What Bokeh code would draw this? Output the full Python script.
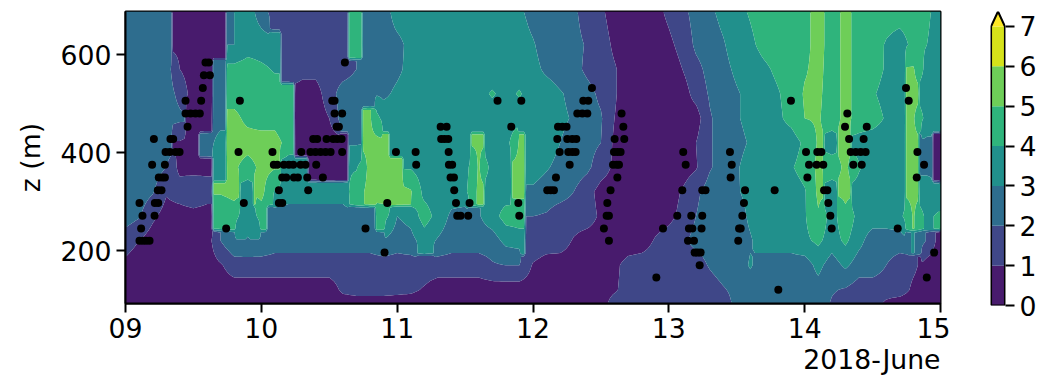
from bokeh.plotting import figure
from bokeh.layouts import row
from bokeh.models import FixedTicker, Range1d, Title
from bokeh.embed import file_html
from bokeh.resources import INLINE
import numpy as np

days_grid = [0.0,0.1,0.2,0.3,0.4,0.5,0.6,0.7,0.8,0.9,
             1.0,1.1,1.2,1.3,1.4,1.5,1.6,1.7,1.8,1.9,
             2.0,2.1,2.2,2.3,2.4,2.5,2.6,2.7,2.8,2.9,
             3.0,3.1,3.2,3.3,3.4,3.5,3.6,3.7,3.8,3.9,
             4.0,4.1,4.2,4.3,4.4,4.5,4.6,4.7,4.8,4.9,
             5.0,5.1,5.2,5.3,5.4,5.5,5.6,5.7,5.8,5.9,6.0]
z_grid = [92,120,170,220,270,320,370,420,470,520,570,620,688]

w092 = [0.5,0.5,0.5,0.5,0.5,0.5,0.5,0.5,0.5,0.5, 0.5,0.5,0.5,0.5,0.5,0.5,0.5,0.5,0.5,0.5, 0.5,0.5,0.5,0.5,0.5,0.5,0.5,0.5,0.5,0.5,
        0.5,0.5,0.5,0.5,0.5,0.7,1.3,1.5,1.5,1.5, 1.5,1.5,1.5,1.5,1.5,2.3,2.5,2.5,2.5,2.5, 2.5,2.5,1.9,1.5,1.5,1.5,0.8,0.5,0.5,0.5,0.5]
w120 = [0.9,0.5,0.5,0.5,0.5,0.5,0.5,0.5,0.5,0.5, 0.5,0.5,0.5,0.5,0.5,0.5,1.2,1.4,1.4,1.4, 1.3,1.2,0.9,0.5,0.5,0.5,0.5,0.5,0.5,0.5,
        0.5,0.5,0.5,0.5,0.5,0.7,0.9,1.3,1.5,1.5, 1.5,1.5,1.5,1.5,1.9,2.3,2.5,2.5,2.5,2.5, 2.5,2.6,2.1,1.9,1.5,1.5,1.5,1.5,0.8,0.5,0.5]
w170 = [0.8,0.5,0.5,0.5,0.5,0.5,0.5,0.9,1.5,1.5, 1.5,1.5,1.5,1.5,1.5,1.5,1.5,1.5,1.5,1.5, 1.5,1.5,1.5,1.5,1.5,1.5,1.5,1.9,2.0,2.0,
        0.9,0.5,0.5,0.5,0.5,0.5,0.8,1.3,1.5,1.5, 1.5,1.5,1.5,2.1,2.5,2.5,3.1,2.5,2.5,2.5, 2.5,3.3,2.5,3.2,2.5,2.5,2.0,1.5,1.2,0.6,0.5]
w220 = [1.4,1.0,0.5,0.5,0.5,0.5,0.5,2.0,2.9,3.0, 2.9,2.5,2.5,2.5,2.5,2.5,2.5,2.5,2.5,2.9, 2.5,2.7,3.4,2.9,2.5,2.5,2.5,2.5,3.3,3.5,
        1.8,1.6,1.5,0.9,0.5,0.5,0.5,0.5,0.5,1.1, 1.5,1.8,2.3,2.5,2.5,2.5,2.9,3.5,3.5,3.5, 3.8,4.2,3.5,4.2,3.3,2.5,2.5,2.5,3.1,1.9,0.5]
w270 = [2.5,2.1,1.2,0.6,0.5,0.5,0.5,4.2,4.5,3.0, 4.5,2.5,2.5,2.5,2.5,2.5,2.5,2.5,2.9,4.5, 3.0,3.3,4.5,3.6,2.8,2.5,2.9,3.6,4.4,4.5,
        2.0,1.9,1.5,1.5,1.5,0.8,0.5,0.5,0.5,0.5, 0.7,1.3,2.0,2.5,2.5,2.5,3.2,3.5,3.5,3.5, 3.9,4.9,3.5,4.8,3.6,3.5,3.5,3.7,5.1,3.7,4.3]
w320 = [2.5,2.5,2.1,1.1,1.5,2.0,1.5,5.1,5.3,3.5, 5.3,3.9,3.5,3.5,3.5,3.5,3.5,4.6,5.3,5.5, 5.5,5.1,3.7,3.5,3.5,3.8,5.2,3.6,3.5,5.2,
        2.8,2.5,2.4,2.0,1.4,0.6,0.5,0.5,0.5,0.5, 0.5,1.1,1.8,2.4,2.6,2.9,3.3,3.5,3.5,3.5, 3.9,5.2,3.5,5.2,3.6,3.5,3.5,3.5,5.2,3.4,3.0]
w370 = [2.5,2.5,2.5,2.0,0.7,0.5,0.7,3.5,5.2,4.5, 5.3,5.1,3.5,3.4,0.8,0.5,0.7,3.9,5.3,5.5, 5.4,3.9,3.5,3.5,3.5,3.6,5.1,3.6,3.6,5.2,
        3.5,3.1,2.7,2.5,2.2,1.5,0.8,0.5,0.5,0.5, 0.5,0.5,0.9,1.9,2.4,2.9,3.4,3.5,3.5,3.9, 4.4,5.2,4.5,5.2,4.1,3.5,3.5,3.5,5.2,2.8,0.5]
w420 = [2.5,2.5,2.5,2.5,0.9,0.5,2.6,3.4,5.5,5.5, 5.5,5.5,4.5,0.7,0.5,0.5,0.5,2.9,5.2,5.3, 3.5,3.5,3.5,3.5,3.5,3.5,5.1,3.5,3.6,5.1,
        3.5,3.5,3.0,2.6,2.3,2.0,0.8,0.5,0.5,0.5, 0.5,0.5,1.0,1.9,2.4,2.7,3.1,3.5,3.5,3.5, 4.2,5.1,3.5,5.2,3.6,3.5,3.5,3.5,5.2,2.8,0.5]
w470 = [2.5,2.5,2.5,2.5,2.2,0.5,0.8,2.6,5.3,4.7, 4.5,4.5,4.0,0.6,0.5,1.0,2.5,2.6,5.1,3.6, 3.5,3.5,3.5,3.5,3.5,3.5,3.5,3.5,3.5,3.5,
        3.5,3.5,3.2,2.9,2.4,2.1,1.0,0.5,0.5,0.5, 0.5,0.5,0.5,1.9,2.4,2.9,3.3,3.5,3.8,4.3, 5.0,5.1,4.5,5.3,4.6,4.4,3.9,3.5,5.1,3.6,3.5]
w520 = [2.5,2.5,2.5,2.5,1.7,0.5,0.5,2.6,4.5,4.5, 4.5,4.5,4.5,0.6,0.6,1.5,2.5,2.6,3.0,2.8, 3.2,3.5,3.5,3.5,3.5,3.5,3.7,4.1,3.7,4.1,
        3.5,3.5,3.1,2.7,2.3,1.8,1.1,0.5,0.5,0.5, 0.5,0.5,1.4,2.1,2.5,2.9,3.3,3.5,3.9,4.4, 5.1,5.2,4.5,5.3,4.6,4.1,3.7,3.5,5.3,3.6,3.5]
w570 = [2.5,2.5,2.5,2.5,1.0,0.5,0.5,2.6,4.3,4.5, 4.2,3.9,1.8,1.3,1.3,1.5,1.5,2.0,2.5,2.5, 2.8,3.3,3.5,3.5,3.5,3.5,3.5,3.5,3.5,3.5,
        3.3,2.8,2.5,2.3,1.8,1.5,1.1,0.5,0.5,0.5, 0.5,1.0,1.7,2.3,2.7,3.2,3.5,3.8,4.2,4.5, 4.9,5.3,4.5,5.3,4.6,4.4,3.9,3.5,5.1,3.6,3.5]
w620 = [2.5,2.5,2.5,2.5,0.7,0.5,0.5,0.5,3.0,3.5, 3.5,3.5,1.9,1.5,1.5,1.5,1.6,4.5,2.7,2.5, 2.7,3.3,3.5,3.5,3.5,3.5,3.5,3.5,3.5,3.5,
        3.1,2.5,2.5,2.3,1.9,1.5,0.8,0.5,0.5,0.5, 0.8,1.3,2.2,2.5,2.9,3.5,3.8,4.3,4.5,4.5, 4.7,5.4,4.5,5.3,4.6,4.5,3.9,3.5,4.3,4.0,3.5]
w688 = [2.5,2.5,2.5,2.5,0.6,0.5,0.5,0.5,3.0,3.5, 2.5,1.5,1.5,1.5,1.5,1.5,1.5,4.5,2.5,2.5, 3.5,3.5,3.5,3.5,3.5,3.5,3.5,3.5,3.5,3.2,
        2.6,2.5,2.5,2.2,1.5,1.2,0.5,0.5,0.5,0.7, 1.2,1.7,2.4,2.8,3.3,3.7,4.1,4.5,4.5,4.5, 4.7,5.4,4.5,5.3,4.6,4.5,4.5,4.5,4.5,4.2,3.5]

# detected layer points: height (m) and the days after June 9 at that height
pt120 = [4.806]
pt145 = [3.908, 5.899]
pt170 = [4.227]
pt196 = [1.907, 4.190, 4.210, 4.234, 5.953]
pt220 = [0.103, 0.128, 0.152, 0.177, 3.559, 4.141, 4.185, 4.511]
pt245 = [0.115, 0.741, 1.767, 3.522, 3.957, 4.148, 4.173, 4.241, 4.517, 4.529, 5.199, 5.685]
pt271 = [0.125, 0.214, 2.442, 2.467, 2.523, 2.899, 3.542, 3.559, 4.062, 4.165, 4.246, 4.541, 5.189]
pt297 = [0.103, 0.216, 0.241, 0.871, 1.129, 1.154, 1.927, 2.433, 2.533, 2.892, 3.547, 4.553, 5.174]
pt323 = [0.238, 0.265, 1.129, 1.345, 2.420, 3.105, 3.130, 3.154, 3.571, 4.099, 4.246, 4.270, 4.561, 4.779, 5.143, 5.167]
pt349 = [0.245, 0.270, 0.290, 1.154, 1.183, 1.240, 1.269, 1.338, 1.453, 2.393, 2.418, 3.169, 3.621, 4.455, 5.020, 5.825]
pt375 = [0.196, 0.290, 1.092, 1.117, 1.166, 1.203, 1.235, 1.289, 1.325, 1.404, 2.140, 2.381, 2.405, 3.270, 3.589, 3.616, 3.633,
         4.124, 4.463, 5.032, 5.088, 5.137, 5.358, 5.420, 5.879]
pt401 = [0.295, 0.326, 0.368, 0.398, 0.832, 1.082, 1.294, 1.362, 1.399, 1.436, 1.473, 1.510, 1.595, 1.991, 2.136, 2.379, 3.196,
         3.260, 3.289, 3.314, 3.596, 3.621, 3.645, 4.106, 4.450, 5.010, 5.093, 5.123, 5.339, 5.376, 5.412, 5.449, 5.830]
pt428 = [0.209, 0.331, 0.351, 1.382, 1.411, 1.480, 1.529, 1.559, 1.591, 2.324, 2.349, 2.376, 3.179, 3.252, 3.289, 3.319, 3.601, 3.672, 5.327, 5.434]
pt453 = [0.457, 1.554, 1.571, 2.320, 2.364, 2.840, 3.184, 3.216, 3.247, 3.665, 5.297, 5.457]
pt480 = [0.442, 0.479, 0.515, 0.547, 1.539, 1.595, 3.326, 3.363, 3.400, 3.652, 5.314]
pt506 = [0.442, 0.557, 0.842, 1.522, 1.539, 2.739, 2.914, 3.370, 3.407, 4.899, 5.766]
pt532 = [0.569, 3.434, 5.746]
pt558 = [0.577, 0.621]
pt584 = [0.589, 0.614, 1.615]

levels = [0, 1, 2, 3, 4, 5, 6, 7]
colors = ["#481b6d", "#3f4788", "#2e6d8e", "#21908c", "#2fb47c", "#6ece58", "#d5e21a"]
over_color = "#fde725"
x_ticks = [0, 1, 2, 3, 4, 5, 6]
x_labels = ["09", "10", "11", "12", "13", "14", "15"]
y_ticks = [200, 400, 600]


def refine(coords, vals, factor=6, jump=1.5):
    """Subdivide along axis 0; keep large jumps as sharp edges, as on the reference's coarse time grid."""
    coords = np.asarray(coords, float)
    t = np.arange(factor) / factor
    new_c = [coords[i] + t * (coords[i + 1] - coords[i]) for i in range(len(coords) - 1)]
    new_v = []
    for i in range(len(coords) - 1):
        a, b = vals[i], vals[i + 1]
        big = np.abs(b - a) > jump
        for f in t:
            new_v.append(np.where(big, a if f < 0.5 else b, a + f * (b - a)))
    return np.append(np.concatenate(new_c), coords[-1]), np.vstack(new_v + [vals[-1]])


grid = np.array([w092, w120, w170, w220, w270, w320, w370, w420, w470, w520, w570, w620, w688])
fine_x, g = refine(days_grid, grid.T)
fine_z, g = refine(z_grid, g.T)

pts = {120: pt120, 145: pt145, 170: pt170, 196: pt196, 220: pt220, 245: pt245, 271: pt271, 297: pt297,
       323: pt323, 349: pt349, 375: pt375, 401: pt401, 428: pt428, 453: pt453, 480: pt480, 506: pt506,
       532: pt532, 558: pt558, 584: pt584}
px = [d for k, v in pts.items() for d in v]
py = [k for k, v in pts.items() for d in v]

FONT = "DejaVu Sans"
FS = "26.7px"

p = figure(frame_width=815, frame_height=292, x_range=Range1d(0, 6), y_range=Range1d(92, 688),
           output_backend="svg", toolbar_location=None,
           min_border_left=125, min_border_right=10, min_border_top=11, min_border_bottom=0)
p.contour(fine_x, fine_z, g, levels, fill_color=colors, line_color=None)
p.scatter(px, py, size=8, color="black", line_color=None)

p.grid.visible = False
p.outline_line_color = "black"
p.outline_line_width = 2
p.xaxis.ticker = FixedTicker(ticks=x_ticks)
p.xaxis.major_label_overrides = dict(zip(x_ticks, x_labels))
p.yaxis.ticker = FixedTicker(ticks=y_ticks)
p.yaxis.axis_label = "z (m)"
for ax in (p.xaxis[0], p.yaxis[0]):
    ax.axis_line_color = "black"
    ax.axis_line_width = 2
    ax.major_tick_line_color = "black"
    ax.major_tick_line_width = 2
    ax.major_tick_in = 0
    ax.major_tick_out = 9
    ax.minor_tick_line_color = None
    ax.major_label_text_font = FONT
    ax.major_label_text_font_size = FS
    ax.major_label_text_color = "black"
p.yaxis[0].axis_label_text_font = FONT
p.yaxis[0].axis_label_text_font_size = FS
p.yaxis[0].axis_label_text_font_style = "normal"
p.yaxis[0].axis_label_text_color = "black"
p.yaxis[0].axis_label_standoff = 12
t = Title(text="2018-June", align="right", text_font=FONT, text_font_size=FS,
          text_font_style="normal", text_color="black", offset=0, standoff=3)
p.add_layout(t, "below")

# colour bar
cb = figure(frame_width=15, frame_height=294, x_range=Range1d(-0.04, 1.04), y_range=Range1d(0, 7.376),
            output_backend="svg", toolbar_location=None,
            min_border_left=40, min_border_right=2, min_border_top=10, min_border_bottom=40,
            y_axis_location="right")
cb.quad(left=0, right=1, bottom=levels[:-1], top=levels[1:], fill_color=colors, line_color=None)
cb.patch([0, 0.5, 1], [7, 7.376, 7], fill_color=over_color, line_color=None)
cb.line([0, 0, 0.5, 1, 1, 0], [0, 7, 7.376, 7, 0, 0], line_color="black", line_width=2)
cb.grid.visible = False
cb.outline_line_color = None
cb.xaxis.visible = False
ay = cb.yaxis[0]
ay.ticker = FixedTicker(ticks=levels)
ay.axis_line_color = None
ay.major_tick_line_color = "black"
ay.major_tick_line_width = 2
ay.major_tick_in = 0
ay.major_tick_out = 9
ay.minor_tick_line_color = None
ay.major_label_text_font = FONT
ay.major_label_text_font_size = FS
ay.major_label_text_color = "black"

layout = row(p, cb)
open("out.html", "w").write(file_html(layout, INLINE))
